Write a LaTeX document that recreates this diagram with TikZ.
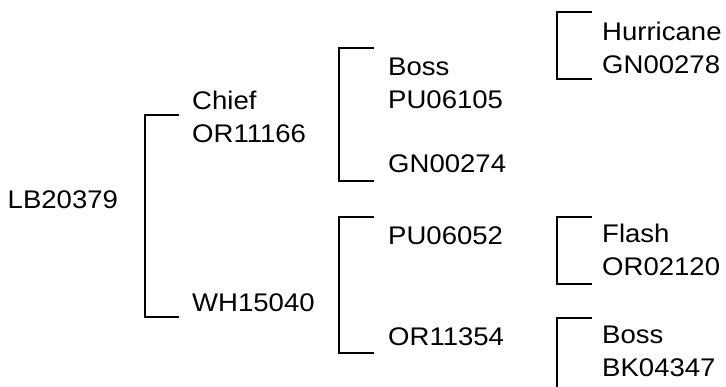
\documentclass[tikz,border=0pt]{standalone}
\usepackage{fontspec}
\setmainfont{Liberation Sans}[FakeStretch=1.08]
\usetikzlibrary{positioning}

\begin{document}
\begin{tikzpicture}[x=1pt, y=-1pt,
            every node/.style={anchor=base west, inner sep=0pt, align=left, font=\fontsize{25.5}{33}\selectfont},
            bracket/.style={-, line width=2pt, color=black}
        ]
        \useasboundingbox (0,0) rectangle (726,386);

        \node (lb20379) at (7.5, 208.5) {LB20379};

        \node (or11166) at (192, 142.5) {Chief\\OR11166};
        \node (wh15040) at (192, 311.7) {WH15040};

        \node (pu06105) at (388, 108.3) {Boss\\PU06105};
        \node (gn00274) at (388, 172.3) {GN00274};
        \node (pu06052) at (388, 244.3) {PU06052};
        \node (or11354) at (388, 345) {OR11354};

        \node (gn00278) at (602, 73.3) {Hurricane\\GN00278};
        \node (or02120) at (602, 275.7) {Flash\\OR02120};
        \node (bk04347) at (602, 376.7) {Boss\\BK04347};

        
        \coordinate (lb-s) at (179, 114.5);
        \coordinate (lb-d) at (179, 317.3);
        \coordinate (or11166-s) at (374, 48);
        \coordinate (or11166-d) at (374, 181);
        \coordinate (wh15040-s) at (374, 216.7);
        \coordinate (wh15040-d) at (374, 353);
        \coordinate (pu06105-s) at (592, 12);
        \coordinate (pu06105-d) at (592, 79);
        \coordinate (pu06052-s) at (592, 216.7);
        \coordinate (pu06052-d) at (592, 284);
        \coordinate (or11354-s) at (592, 318.3);
        \coordinate (or11354-d) at (557, 387);

        \draw[bracket] (lb-s) -- ++(-34,0) |- (lb-d);
        \draw[bracket] (or11166-s) -- ++(-35,0) |- (or11166-d);
        \draw[bracket] (wh15040-s) -- ++(-35,0) |- (wh15040-d);
        \draw[bracket] (pu06105-s) -- ++(-35,0) |- (pu06105-d);
        \draw[bracket] (pu06052-s) -- ++(-35,0) |- (pu06052-d);
        \draw[bracket] (or11354-s) -- ++(-35,0) -- (or11354-d);

        \end{tikzpicture}
\end{document}
